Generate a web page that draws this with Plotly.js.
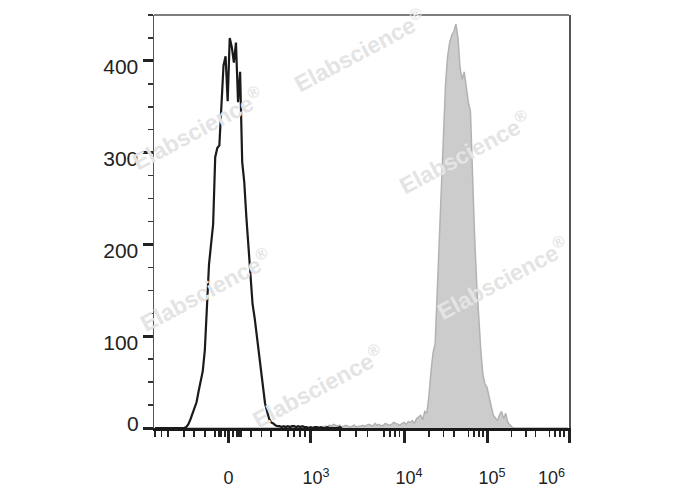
<!DOCTYPE html>
<html>
<head>
<meta charset="utf-8">
<script src="https://cdn.plot.ly/plotly-3.0.1.min.js"></script>
<style>html,body{margin:0;padding:0;background:#fff;}#chart{width:688px;height:490px;}</style>
</head>
<body>
<div id="chart"></div>
<script>
// Histogram bins on a 0-1000 display-channel scale, bin width 5 channels
var binWidth = 5;

// Unstained / isotype control (black outline), bins 0..90
var controlCounts = [
  0,0,0,0,0,0,0,0,0,0,
  0,0,0,0,0,1,4,9,15,21,
  28,40,50,62,85,130,178,200,222,295,
  305,308,350,395,405,356,425,415,398,420,
  355,388,290,268,230,195,165,135,120,102,
  80,60,45,27,18,10,6,5,3,2,
  2,1,2,1,2,1,2,2,1,2,
  1,2,1,1,0,1,0,1,1,0,
  1,0,0,1,0,0,0,0,0,1,0
];

// Stained sample (grey filled), bins 0..199
var stainedCounts = [
  0,0,0,0,0,0,0,0,0,0,
  0,0,0,0,0,0,0,0,0,0,
  0,0,0,0,0,0,0,0,0,0,
  0,0,0,0,0,0,0,0,0,0,
  0,0,0,0,0,0,0,0,0,0,
  0,0,0,0,0,0,0,0,0,0,
  0,0,0,1,0,0,1,0,0,1,
  1,0,1,0,0,1,0,1,0,1,
  1,1,2,1,3,2,4,3,2,3,
  1,2,3,2,1,2,3,1,2,2,
  3,2,3,4,3,2,5,3,4,2,
  3,5,4,3,4,6,5,4,3,5,
  6,4,7,6,8,5,10,12,14,9,
  18,16,35,62,82,92,150,200,255,330,
  375,405,420,428,432,440,425,392,380,388,
  370,355,345,270,210,158,115,85,58,48,
  44,32,24,14,11,8,14,18,10,16,
  6,3,1,0,0,0,0,0,0,0,
  0,0,0,0,0,0,0,0,0,0,
  0,0,0,0,0,0,0,0,0,0
];

// Axis ticks (display-channel positions and labels)
var xMajorVals = [179.5, 378.3, 602.4, 802.4, 1000];
var xMajorText = ["0", "10<sup>3</sup>", "10<sup>4</sup>", "10<sup>5</sup>", "10<sup>6</sup>"];
var xMediumVals = [52.3, 151.8, 166.3, 175.9, 185.5, 195.2, 303.6, 536.1, 742.2, 937.3];
var xMinorVals = [2.4, 18.6, 33.7, 72.3, 96.4, 122.9,
  147.0, 156.6, 161.4, 171.1, 180.7, 190.4, 200.0, 204.8, 209.6,
  233.7, 259.5, 281.9, 322.9, 337.3, 351.8, 363.9,
  448.2, 486.7, 514.5, 554.8, 568.7, 580.7, 591.6,
  662.7, 697.8, 722.9, 758.1, 771.1, 783.1, 792.8,
  861.9, 896.4, 919.0, 953.0, 966.3, 977.8, 987.9];
var yMajorVals = [100, 200, 300, 400];
var yMajorText = ["100", "200", "300", "400"];
var yZeroVals = [0];
var yZeroText = ["0"];

var watermarkText = "Elabscience<sup>®</sup>";
var watermarkX = [0.496, 0.106, 0.749, 0.123, 0.839, 0.395];
var watermarkY = [0.915, 0.726, 0.668, 0.334, 0.363, 0.102];

function binCenters(n) {
  var xs = [];
  for (var i = 0; i < n; i++) xs.push((i + 0.5) * binWidth);
  return xs;
}

var NB = "\u00A0";
var xLabels = xMajorText.map(function (t, i) {
  if (i === 0) return t;
  if (i === xMajorText.length - 1) return t + NB + NB + NB + NB + NB + NB + NB;
  return NB + NB + t;
});

var traces = [
  {
    x: binCenters(stainedCounts.length), y: stainedCounts,
    xaxis: 'x', yaxis: 'y',
    type: 'scatter', mode: 'lines', fill: 'tozeroy',
    fillcolor: 'rgb(204,204,204)',
    line: {color: 'rgb(178,178,178)', width: 1.5},
    hoverinfo: 'skip', showlegend: false
  },
  {
    x: binCenters(controlCounts.length), y: controlCounts,
    xaxis: 'x', yaxis: 'y2',
    type: 'scatter', mode: 'lines',
    line: {color: '#1a1a1a', width: 2.2},
    hoverinfo: 'skip', showlegend: false
  }
];

var annotations = watermarkX.map(function (x, i) {
  return {
    xref: 'paper', yref: 'paper', x: x, y: watermarkY[i],
    xanchor: 'center', yanchor: 'middle',
    text: watermarkText, showarrow: false, textangle: -28,
    font: {family: 'Liberation Sans, Arial, sans-serif', size: 23, color: 'rgb(228,228,228)', weight: 'bold'}
  };
});

var yTickCommon = {
  ticks: 'outside', ticklen: 10, tickwidth: 3, tickcolor: '#222',
  tickfont: {size: 21, color: '#222'}
};

var layout = {
  width: 688, height: 490,
  margin: {l: 154, r: 119, t: 15, b: 62, pad: 0},
  paper_bgcolor: '#fff', plot_bgcolor: '#fff',
  font: {family: 'Liberation Sans, Arial, sans-serif', color: '#222'},
  showlegend: false,
  xaxis: {
    range: [0, 1000], fixedrange: true,
    tickmode: 'array', tickvals: xMajorVals, ticktext: xLabels,
    ticks: 'outside', ticklen: 12, tickwidth: 3, tickcolor: '#222',
    ticklabelstandoff: 20,
    tickfont: {size: 18, color: '#222'},
    minor: {tickmode: 'array', tickvals: xMinorVals, ticks: 'outside', ticklen: 6, tickwidth: 1.5, tickcolor: '#222', showgrid: false},
    showline: true, linecolor: '#1a1a1a', linewidth: 2.5,
    showgrid: false, zeroline: false
  },
  xaxis2: {
    overlaying: 'x', anchor: 'y', side: 'bottom',
    range: [0, 1000], fixedrange: true,
    tickmode: 'array', tickvals: xMediumVals,
    ticks: 'outside', ticklen: 9, tickwidth: 2.5, tickcolor: '#222',
    showticklabels: false, showline: false, showgrid: false, zeroline: false
  },
  yaxis: Object.assign({
    range: [0, 450], fixedrange: true,
    tickmode: 'array', tickvals: yMajorVals, ticktext: yMajorText,
    ticklabelshift: 6,
    minor: {tickmode: 'linear', tick0: 0, dtick: 25, ticks: 'outside', ticklen: 5, tickwidth: 1.5, tickcolor: '#333', showgrid: false},
    showline: true, linecolor: '#555', linewidth: 1.5, mirror: true,
    showgrid: false, zeroline: false
  }, yTickCommon),
  yaxis2: Object.assign({
    overlaying: 'y', anchor: 'x', side: 'left',
    range: [0, 450], fixedrange: true,
    tickmode: 'array', tickvals: yZeroVals, ticktext: yZeroText,
    ticklabelshift: -4,
    showline: false, showgrid: false, zeroline: false
  }, yTickCommon),
  shapes: [
    {type: 'line', xref: 'paper', yref: 'paper', x0: 0, x1: 1, y0: 1, y1: 1, line: {color: '#555', width: 1.5}}
  ],
  annotations: annotations
};

Plotly.newPlot('chart', traces, layout, {staticPlot: true, displayModeBar: false});
</script>
</body>
</html>
